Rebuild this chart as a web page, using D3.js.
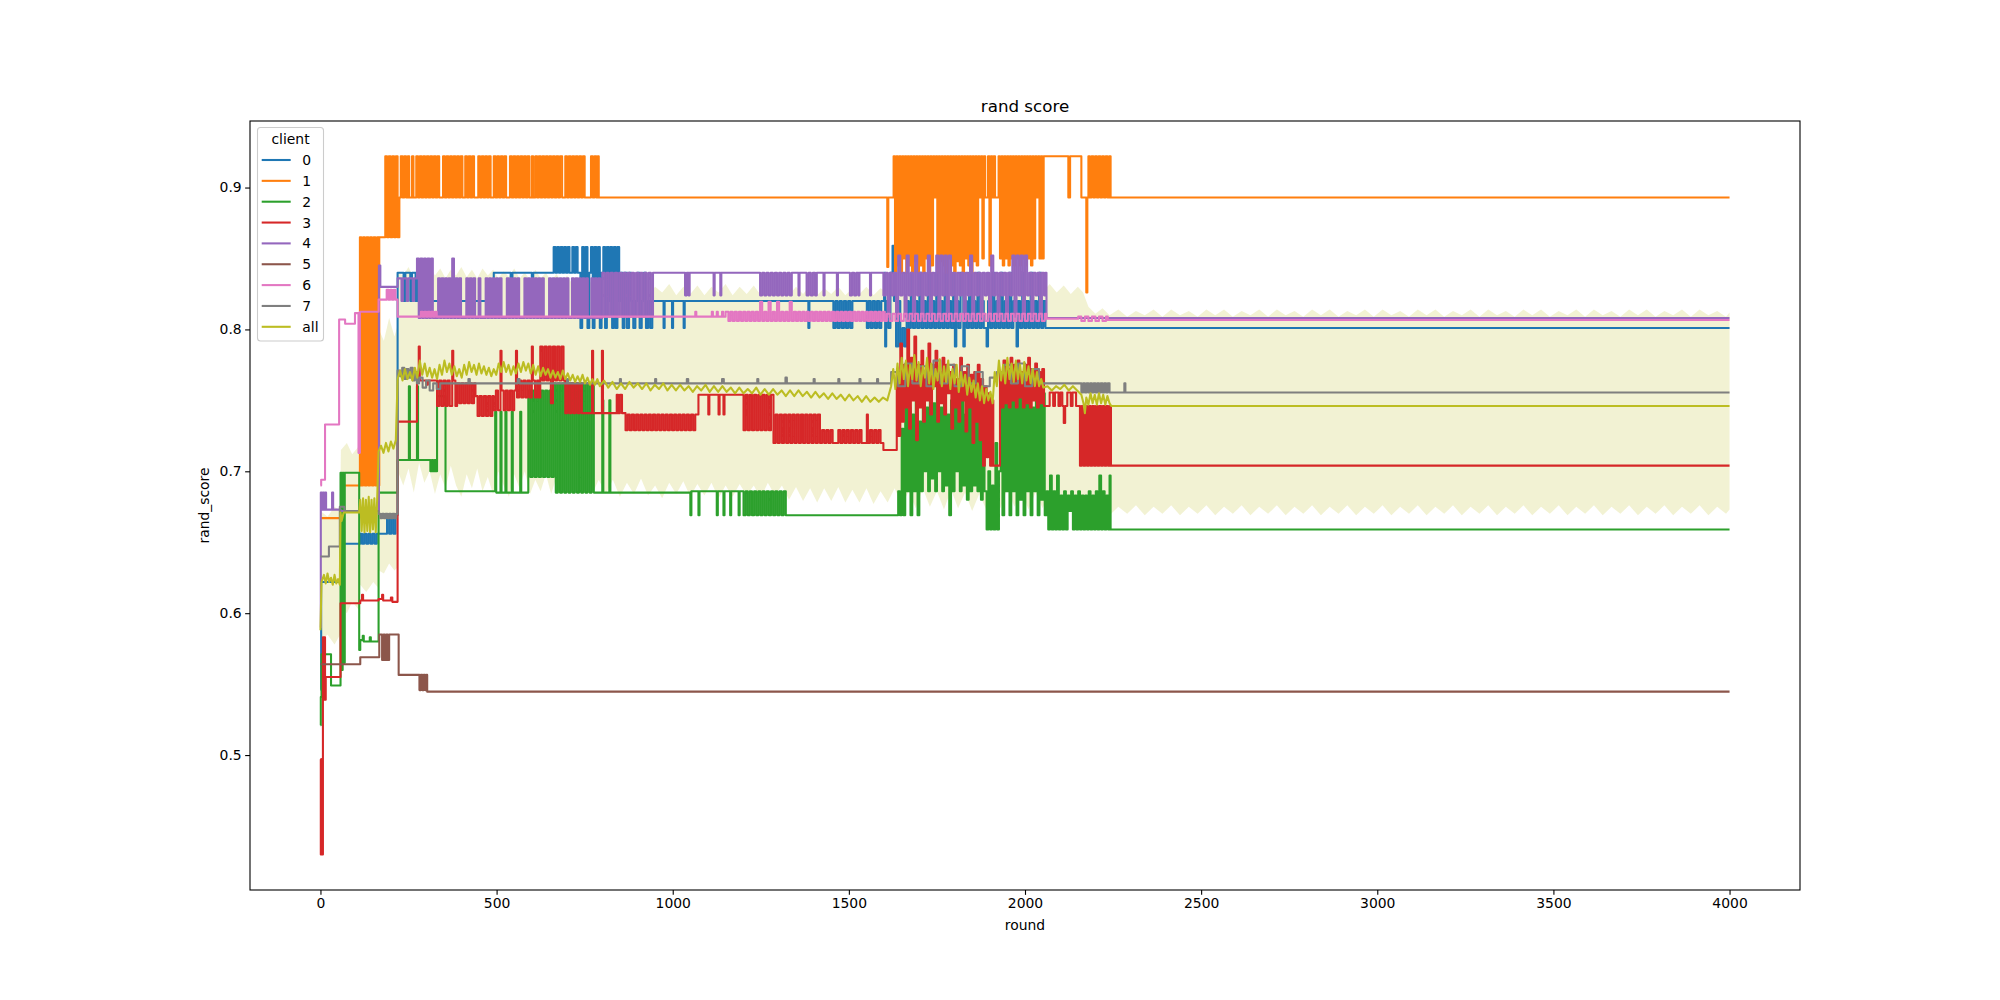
<!DOCTYPE html>
<html><head><meta charset="utf-8">
<script src="https://cdn.jsdelivr.net/npm/d3@7"></script>
<style>body{margin:0;background:#fff}</style>
</head><body>
<svg id="chart" width="2000" height="1000"></svg>
<script>
// ---------------- data ----------------
const clients = ["0","1","2","3","4","5","6","7"];
const legendLabels = ["0","1","2","3","4","5","6","7","all"];
const xTicks = [0,500,1000,1500,2000,2500,3000,3500,4000];
const yTicks = [0.5,0.6,0.7,0.8,0.9];

// each client: flat list of [round, value] pairs (value holds until next round)
const c0 = [0,.546, 2,.622, 57,.649, 113,.656, 118,.649, 124,.656, 130,.649, 136,.656, 142,.649, 148,.656, 154,.649, 160,.656, 189,.669, 195,.656, 201,.669, 207,.656, 213,.669, 219,.840, 236,.820, 241,.840, 255,.820, 260,.840, 270,.820, 276,.840, 280,.820, 492,.840, 540,.820, 545,.840, 600,.820, 604,.840,
662,.858, 667,.840, 672,.858, 677,.840, 682,.858, 687,.840, 692,.858, 697,.840, 702,.858, 707,.840, 715,.858, 720,.840, 725,.858, 730,.840, 738,.801, 743,.858, 748,.820, 753,.858, 758,.801, 763,.840, 768,.858, 773,.801, 778,.858, 783,.820, 788,.858, 793,.801, 798,.840, 803,.858, 808,.801, 813,.858, 818,.820, 823,.858, 828,.801, 833,.858, 838,.801, 843,.858, 848,.820, 853,.840, 858,.801, 863,.840, 870,.801, 876,.840, 882,.820, 888,.801, 894,.820, 900,.840, 906,.801, 912,.820, 918,.840, 924,.801, 930,.820, 936,.801, 942,.820,
974,.801, 977,.820, 998,.801, 1001,.820, 1031,.801, 1034,.820, 1385,.801, 1388,.820, 1456,.801, 1462,.820, 1468,.801, 1474,.820, 1480,.801, 1486,.820, 1492,.801, 1498,.820, 1504,.801, 1510,.820, 1551,.801, 1556,.820, 1562,.801, 1568,.820, 1574,.801, 1580,.820, 1586,.801, 1592,.820,
1600,.840, 1603,.788, 1606,.820, 1612,.801, 1618,.840, 1624,.859, 1628,.820, 1634,.788, 1640,.820, 1646,.788, 1652,.801, 1658,.788, 1664,.820, 1670,.801, 1676,.840, 1682,.801, 1688,.820, 1694,.801, 1700,.840, 1706,.801, 1712,.820, 1718,.801, 1724,.840, 1730,.801, 1736,.820, 1742,.801, 1748,.840, 1754,.801, 1760,.820, 1766,.801, 1772,.840, 1778,.801, 1784,.820, 1790,.801, 1796,.840, 1801,.788, 1805,.820, 1811,.801, 1817,.840, 1825,.788, 1829,.820, 1835,.801, 1841,.840, 1847,.801, 1853,.820, 1859,.801, 1865,.840, 1871,.801, 1877,.820, 1883,.801, 1891,.788, 1895,.820, 1901,.801, 1907,.840, 1913,.801, 1919,.820, 1925,.801, 1931,.840, 1937,.801, 1943,.820, 1949,.801, 1955,.840, 1961,.801, 1967,.820, 1976,.788, 1980,.820, 1986,.801, 1992,.840, 1998,.801, 2004,.820, 2010,.801, 2016,.840, 2022,.801, 2028,.820, 2034,.801, 2040,.840, 2046,.801, 2052,.820, 2058,.801, 4000,.801];

const c1 = [0,.667, 60,.690, 112,.865, 116,.690, 121,.865, 126,.690, 131,.865, 136,.690, 141,.865, 146,.690, 151,.865, 156,.690, 161,.865, 165,.690, 167,.865, 184,.922, 189,.865, 194,.922, 199,.865, 204,.922, 209,.865, 214,.922, 219,.865, 224,.893,
228,.922, 233,.893, 238,.922, 243,.893, 248,.922, 252,.893, 260,.922, 264,.893, 272,.922, 277,.893, 282,.922, 287,.893, 292,.922, 297,.893, 302,.922, 307,.893, 312,.922, 317,.893, 322,.922, 327,.893, 332,.922, 337,.893, 348,.922, 353,.893, 358,.922, 363,.893, 368,.922, 373,.893, 378,.922, 383,.893, 388,.922, 393,.893, 398,.922, 403,.893, 411,.922, 416,.893, 421,.922, 426,.893, 431,.922, 436,.893, 448,.922, 453,.893, 458,.922, 463,.893, 468,.922, 473,.893, 478,.922, 483,.893, 492,.922, 497,.893, 502,.922, 507,.893, 512,.922, 517,.893, 522,.922, 527,.893, 538,.922, 543,.893, 548,.922, 553,.893, 558,.922, 563,.893, 568,.922, 573,.893, 578,.922, 583,.893, 588,.922, 593,.893, 600,.922, 604,.893, 610,.922, 615,.893, 620,.922, 625,.893, 630,.922, 635,.893, 640,.922, 645,.893, 650,.922, 655,.893, 660,.922, 665,.893, 670,.922, 675,.893, 680,.922, 686,.893, 695,.922, 700,.893, 705,.922, 710,.893, 715,.922, 720,.893, 725,.922, 730,.893, 735,.922, 740,.893, 745,.922, 750,.893, 768,.922, 773,.893, 778,.922, 783,.893, 787,.922, 790,.893,
1609,.844, 1612,.893,
1627,.922, 1631,.840, 1635,.922, 1639,.845, 1643,.922, 1647,.840, 1651,.922, 1655,.850, 1659,.922, 1663,.840, 1667,.922, 1671,.845, 1675,.922, 1679,.840, 1683,.922, 1687,.848, 1691,.922, 1695,.840, 1699,.922, 1703,.845, 1707,.922, 1711,.840, 1715,.922, 1719,.850, 1723,.922, 1727,.840, 1731,.922, 1735,.845, 1739,.922, 1743,.893, 1747,.922, 1751,.840, 1755,.922, 1759,.848, 1763,.922, 1767,.845, 1771,.922, 1775,.840, 1779,.922, 1783,.850, 1787,.922, 1791,.845, 1795,.922, 1799,.840, 1803,.922, 1807,.848, 1811,.922, 1815,.845, 1819,.922, 1823,.840, 1827,.922, 1831,.850, 1835,.922, 1839,.845, 1843,.922, 1847,.840, 1851,.922, 1855,.848, 1859,.922, 1863,.845, 1867,.922, 1871,.893, 1875,.922, 1879,.850, 1883,.922, 1887,.893, 1895,.922, 1899,.845, 1903,.922, 1907,.893, 1911,.922, 1915,.893,
1925,.922, 1929,.850, 1933,.922, 1937,.845, 1941,.922, 1945,.850, 1949,.922, 1953,.845, 1957,.922, 1961,.850, 1965,.922, 1969,.845, 1973,.922, 1977,.850, 1981,.922, 1985,.845, 1989,.922, 1993,.850, 1997,.922, 2001,.845, 2005,.922, 2009,.850, 2013,.922, 2017,.845, 2021,.922, 2025,.850, 2029,.922, 2033,.893, 2037,.922, 2041,.850, 2045,.922, 2049,.850, 2053,.922,
2123,.893, 2128,.922, 2160,.893, 2174,.826, 2177,.893, 2180,.922, 2184,.893, 2189,.922, 2194,.893, 2199,.922, 2204,.893, 2209,.922, 2214,.893, 2219,.922, 2224,.893, 2229,.922, 2234,.893, 2239,.922, 2243,.893, 4000,.893];

const c2 = [0,.521, 1,.541, 3,.571, 30,.549, 57,.699, 60,.560, 63,.699, 66,.565, 69,.699, 110,.574, 113,.581, 120,.584, 123,.580, 140,.583, 143,.580, 165,.685, 219,.708, 251,.760, 254,.708, 274,.760, 277,.708,
312,.700, 316,.708, 320,.700, 324,.708, 328,.700, 331,.753, 355,.686,
496,.742, 499,.685, 511,.742, 514,.685, 525,.742, 528,.685, 543,.742, 546,.685, 567,.742, 570,.685,
590,.757, 596,.696, 602,.757, 608,.696, 614,.757, 620,.696, 626,.757, 632,.696, 638,.757, 644,.696, 650,.757, 656,.696,
662,.762, 668,.685, 674,.762, 680,.685, 686,.762, 692,.685, 698,.762, 704,.685, 710,.762, 716,.685, 722,.762, 728,.685, 734,.762, 740,.685, 746,.762, 752,.685, 758,.762, 764,.685, 770,.762, 776,.685,
800,.750, 803,.685, 820,.750, 823,.685,
1050,.669, 1053,.686, 1073,.669, 1076,.686, 1125,.669, 1128,.686, 1144,.669, 1147,.686, 1163,.669, 1166,.686, 1187,.669, 1190,.686,
1201,.669, 1207,.686, 1213,.669, 1219,.686, 1225,.669, 1231,.686, 1237,.669, 1243,.686, 1249,.669, 1255,.686, 1261,.669, 1267,.686, 1273,.669, 1279,.686, 1285,.669, 1291,.686, 1297,.669, 1303,.686, 1309,.669, 1315,.686, 1321,.669,
1640,.686, 1645,.669, 1650,.730, 1655,.669, 1660,.750, 1665,.686, 1670,.745, 1675,.669, 1680,.740, 1685,.686, 1690,.755, 1695,.669, 1700,.735, 1705,.686, 1710,.760, 1715,.700, 1720,.745, 1725,.686, 1730,.755, 1735,.695, 1740,.748, 1745,.686, 1750,.770, 1755,.700, 1760,.745, 1765,.686, 1770,.755, 1775,.690, 1780,.740, 1785,.669, 1790,.750, 1795,.686, 1800,.760, 1805,.700, 1810,.745, 1815,.686, 1820,.755, 1825,.690, 1830,.740, 1835,.680, 1840,.750, 1845,.686, 1850,.745, 1855,.690, 1860,.752, 1865,.686, 1870,.740, 1875,.680, 1880,.750, 1885,.686,
1891,.659, 1896,.700, 1901,.659, 1906,.690, 1911,.659, 1916,.720, 1921,.659, 1926,.700,
1931,.752, 1936,.669, 1941,.755, 1946,.686, 1951,.760, 1956,.669, 1961,.750, 1966,.686, 1971,.765, 1976,.669, 1981,.752, 1986,.680, 1991,.760, 1996,.669, 2001,.755, 2006,.686, 2011,.750, 2016,.669, 2021,.745, 2026,.686, 2031,.752, 2036,.669, 2041,.748, 2046,.680, 2051,.755, 2056,.669,
2061,.686, 2066,.659, 2071,.697, 2076,.659, 2081,.686, 2086,.659, 2091,.697, 2096,.659, 2101,.683, 2106,.659, 2111,.686, 2116,.659, 2121,.683, 2126,.672, 2131,.686, 2136,.659, 2141,.683, 2146,.659, 2151,.686, 2156,.659, 2161,.683, 2166,.659, 2171,.683, 2176,.659, 2181,.686, 2186,.659, 2191,.683, 2196,.659, 2201,.686, 2206,.659, 2211,.697, 2216,.659, 2221,.686, 2226,.659, 2231,.683, 2236,.659, 2240,.697, 2243,.659, 4000,.659];

const c3 = [0,.497, 1,.430, 2,.497, 3,.430, 4,.497, 5,.430, 7,.583, 9,.539, 11,.583, 13,.539, 15,.555, 57,.607, 113,.609, 118,.613, 121,.609, 165,.610, 175,.613, 178,.609, 200,.611, 204,.608, 219,.735, 274,.764, 279,.788, 282,.764, 300,.761, 305,.764,
331,.746, 337,.764, 343,.746, 349,.764, 355,.746, 361,.764, 367,.746, 374,.785, 377,.764, 383,.746,
388,.762, 394,.748, 400,.762, 406,.748, 412,.762, 418,.748, 424,.762, 430,.748, 436,.762,
440,.753, 446,.739, 452,.753, 458,.739, 464,.753, 470,.739, 476,.753, 482,.739, 488,.753,
492,.743, 498,.757, 504,.743, 511,.785, 514,.757, 520,.743, 526,.757, 532,.743, 538,.757, 544,.743, 550,.757, 555,.785, 558,.752,
564,.764, 570,.752, 576,.764, 582,.752, 588,.764, 594,.752, 600,.788, 603,.764, 609,.752, 615,.764, 620,.752,
624,.788, 630,.764, 636,.788, 642,.764, 648,.788, 654,.748, 660,.788, 666,.764, 672,.788, 678,.764, 684,.788, 690,.764,
695,.741, 700,.762, 706,.741, 712,.762, 718,.741, 724,.762, 730,.741, 736,.762, 742,.741, 771,.785, 774,.741, 799,.785, 802,.741,
841,.754, 845,.741, 850,.754, 856,.741,
866,.729, 872,.740, 878,.729, 884,.740, 890,.729, 896,.740, 902,.729, 908,.740, 914,.729, 920,.740, 926,.729, 932,.740, 938,.729, 944,.740, 950,.729, 956,.740, 962,.729, 968,.740, 974,.729, 980,.740, 986,.729, 992,.740, 998,.729, 1004,.740, 1010,.729, 1016,.740, 1022,.729, 1028,.740, 1034,.729, 1040,.740, 1046,.729, 1052,.740, 1058,.729, 1064,.740,
1073,.754, 1101,.740, 1104,.754, 1130,.740, 1133,.754, 1144,.740, 1147,.754,
1201,.729, 1207,.754, 1213,.729, 1219,.754, 1225,.729, 1231,.754, 1237,.729, 1243,.754, 1249,.729, 1255,.754, 1261,.729, 1267,.754, 1273,.729, 1279,.754,
1286,.720, 1292,.740, 1298,.720, 1304,.740, 1310,.720, 1316,.740, 1322,.720, 1328,.740, 1334,.720, 1340,.740, 1346,.720, 1352,.740, 1358,.720, 1364,.740, 1370,.720, 1376,.740, 1382,.720, 1388,.740, 1394,.720, 1400,.740, 1406,.720, 1412,.740,
1418,.720, 1424,.729, 1430,.720, 1436,.729, 1442,.720, 1448,.729, 1454,.720, 1470,.729, 1476,.720, 1482,.729, 1488,.720, 1494,.729, 1500,.720, 1506,.729, 1512,.720, 1518,.729, 1524,.720, 1530,.729, 1536,.720, 1551,.740, 1554,.720, 1560,.729, 1566,.720, 1572,.729, 1578,.720, 1584,.729, 1590,.720, 1598,.715,
1636,.770, 1641,.725, 1646,.790, 1651,.735, 1656,.775, 1661,.745, 1666,.800, 1671,.730, 1676,.780, 1681,.750, 1686,.795, 1691,.722, 1696,.775, 1701,.745, 1706,.785, 1711,.735, 1716,.770, 1721,.750, 1726,.790, 1731,.740, 1736,.775, 1741,.760, 1746,.785, 1751,.735, 1756,.770, 1761,.748, 1766,.780, 1771,.740, 1776,.775, 1781,.755, 1786,.770, 1791,.730, 1796,.775, 1801,.745, 1806,.765, 1811,.735, 1816,.780, 1821,.750, 1826,.770, 1831,.728, 1836,.775, 1841,.745, 1846,.768, 1851,.720, 1856,.770, 1861,.735, 1866,.775, 1871,.722, 1876,.765, 1881,.704, 1886,.760, 1891,.710, 1896,.755, 1901,.704, 1906,.750, 1910,.704,
1929,.770, 1934,.745, 1939,.778, 1944,.748, 1949,.772, 1954,.745, 1959,.780, 1964,.750, 1969,.775, 1974,.745, 1979,.778, 1984,.752, 1989,.770, 1994,.745, 1999,.775, 2004,.748, 2009,.780, 2014,.745, 2019,.772, 2024,.750, 2029,.776, 2034,.745, 2039,.770, 2044,.748, 2049,.772, 2054,.746,
2070,.7555, 2080,.746, 2085,.7555, 2095,.746, 2100,.7555, 2106,.746, 2110,.734, 2114,.746, 2120,.7555, 2130,.746, 2135,.7555, 2145,.746,
2156,.704, 2161,.746, 2166,.704, 2171,.746, 2176,.704, 2181,.746, 2186,.704, 2191,.746, 2196,.704, 2201,.746, 2206,.704, 2211,.746, 2216,.704, 2221,.746, 2226,.704, 2231,.746, 2236,.704, 2241,.746, 2244,.704, 4000,.704];

const c4 = [0,.590, 1,.685, 4,.673, 7,.685, 10,.673, 13,.685, 16,.673, 33,.685, 36,.673, 57,.672, 166,.845, 170,.830, 219,.836, 230,.820, 234,.836, 245,.820, 249,.836, 262,.820, 266,.836,
274,.850, 279,.808, 284,.850, 289,.808, 294,.850, 299,.808, 304,.850, 309,.808, 314,.850, 319,.808, 334,.836, 339,.808, 344,.836, 349,.808, 354,.836, 359,.808, 364,.836, 369,.808, 374,.850, 379,.808, 384,.836, 389,.808, 394,.836, 399,.808, 414,.836, 419,.808, 424,.836, 429,.808, 434,.836, 439,.808, 449,.836, 454,.808, 469,.836, 474,.808, 479,.836, 484,.808, 489,.836, 494,.808, 499,.836, 504,.808, 509,.836, 514,.808, 529,.836, 534,.808, 539,.836, 544,.808, 549,.836, 554,.808, 559,.836, 564,.808, 579,.836, 584,.808, 589,.836, 594,.808, 599,.836, 604,.808, 609,.836, 614,.808, 619,.836, 624,.808, 629,.836, 634,.808, 649,.836, 654,.808, 659,.836, 664,.808, 669,.836, 674,.808, 679,.836, 684,.808, 689,.836, 694,.808, 699,.836, 704,.808, 714,.836, 719,.808, 724,.836, 729,.808, 734,.836, 739,.808, 744,.836, 749,.808, 754,.836, 759,.808, 769,.836, 774,.808, 779,.836, 784,.808, 789,.836, 794,.808,
800,.840, 806,.809, 812,.840, 818,.809, 824,.840, 830,.809, 836,.840, 842,.809, 848,.840, 854,.809, 860,.840, 866,.809, 872,.840, 878,.809, 884,.840, 890,.809, 896,.840, 902,.809, 908,.840, 914,.809, 920,.840, 926,.809, 932,.840, 938,.809, 944,.840,
1035,.824, 1040,.840, 1045,.824, 1048,.840, 1116,.824, 1119,.840, 1135,.824, 1138,.840, 1248,.824, 1254,.840, 1260,.824, 1266,.840, 1272,.824, 1278,.840, 1284,.824, 1290,.840, 1296,.824, 1302,.840, 1308,.824, 1314,.840, 1320,.824, 1326,.840, 1332,.824, 1338,.840, 1357,.824, 1360,.840, 1380,.824, 1386,.840, 1392,.824, 1398,.840, 1404,.824, 1409,.840, 1428,.824, 1431,.840, 1466,.824, 1469,.840, 1503,.824, 1509,.840, 1515,.824, 1521,.840, 1527,.824, 1530,.840, 1560,.824, 1563,.840,
1598,.824, 1604,.840, 1610,.809, 1616,.840, 1622,.824, 1628,.840, 1634,.809, 1640,.852, 1646,.824, 1652,.840, 1658,.809, 1664,.852, 1670,.824, 1676,.840, 1682,.809, 1688,.852, 1694,.824, 1700,.840, 1706,.809, 1712,.840, 1718,.824, 1724,.852, 1730,.809, 1736,.840, 1742,.824, 1748,.852, 1754,.809, 1760,.852, 1766,.824, 1772,.852, 1778,.809, 1784,.852, 1790,.824, 1796,.840, 1802,.809, 1808,.840, 1814,.824, 1820,.840, 1826,.809, 1832,.840, 1838,.824, 1844,.852, 1850,.809, 1856,.840, 1862,.824, 1868,.840, 1874,.809, 1880,.840, 1886,.824, 1892,.840, 1898,.809, 1904,.852, 1910,.824, 1916,.840, 1922,.809, 1928,.840, 1934,.824, 1940,.840, 1946,.809, 1952,.840, 1958,.824, 1964,.852, 1970,.809, 1976,.852, 1982,.824, 1988,.852, 1994,.809, 2000,.852, 2006,.824, 2012,.840, 2018,.809, 2024,.840, 2030,.824, 2036,.840, 2042,.809, 2048,.840, 2054,.824, 2058,.840, 2061,.808, 4000,.808];

const c5 = [0,.564, 113,.569, 167,.585, 175,.567, 179,.585, 183,.567, 187,.585, 191,.567, 195,.585, 222,.5565, 281,.5458, 285,.5565, 289,.5458, 293,.5565, 297,.5458, 301,.5565, 303,.5447, 4000,.5447];

const c6 = [0,.690, 2,.694, 13,.733, 53,.807, 70,.804, 98,.8115, 108,.713, 112,.8125, 165,.821, 188,.828, 193,.821, 198,.828, 203,.821, 208,.828, 213,.821, 219,.809, 285,.8125, 290,.809, 295,.8125, 300,.809, 305,.8125, 310,.809, 315,.8125, 320,.809, 325,.8125, 330,.809,
1064,.8125, 1067,.809, 1111,.8125, 1114,.809, 1125,.8125, 1128,.809, 1140,.8125, 1143,.809, 1150,.8125,
1158,.806, 1164,.8125, 1170,.806, 1176,.8125, 1182,.806, 1188,.8125, 1194,.806, 1200,.8125, 1206,.806, 1212,.8125, 1218,.806, 1224,.8125, 1230,.806, 1236,.8125, 1242,.806, 1248,.8195, 1254,.806, 1260,.8125, 1266,.806, 1272,.8195, 1278,.806, 1284,.8125, 1290,.806, 1296,.8195, 1302,.806, 1308,.8125, 1314,.806, 1320,.8125, 1326,.806, 1332,.8195, 1338,.806, 1344,.8125, 1350,.806, 1356,.8125, 1362,.806, 1368,.8125, 1374,.806, 1380,.8125, 1386,.806, 1392,.8125, 1398,.806, 1404,.8125, 1410,.806, 1416,.8125, 1422,.806, 1428,.8125, 1434,.806, 1440,.8125, 1446,.806, 1452,.8125, 1458,.806, 1464,.8125, 1470,.806, 1476,.8125, 1482,.806, 1488,.8125, 1494,.806, 1500,.8125, 1506,.806, 1512,.8125, 1518,.806, 1524,.8125, 1530,.806, 1536,.8125, 1542,.806, 1548,.8125, 1554,.806, 1560,.8125, 1566,.806, 1572,.8125, 1578,.806, 1584,.8125, 1590,.806, 1596,.8125, 1602,.806,
1608,.811, 1616,.806, 1624,.811, 1632,.806, 1640,.811, 1648,.806, 1656,.811, 1664,.806, 1672,.811, 1680,.806, 1688,.811, 1696,.806, 1704,.811, 1712,.806, 1720,.811, 1728,.806, 1736,.811, 1744,.806, 1752,.811, 1760,.806, 1768,.811, 1776,.806, 1784,.811, 1792,.806, 1800,.811, 1808,.806, 1816,.811, 1824,.806, 1832,.811, 1840,.806, 1848,.811, 1856,.806, 1864,.811, 1872,.806, 1880,.811, 1888,.806, 1896,.811, 1904,.806, 1912,.811, 1920,.806, 1928,.811, 1936,.806, 1944,.811, 1952,.806, 1960,.811, 1968,.806, 1976,.811, 1984,.806, 1992,.811, 2000,.806, 2008,.811, 2016,.806, 2024,.811, 2032,.806, 2040,.811, 2048,.806, 2056,.811, 2061,.8075,
2151,.809, 2160,.806, 2170,.809, 2180,.806, 2190,.809, 2200,.806, 2210,.809, 2220,.806, 2230,.809, 2235,.8066, 4000,.8066];

const c7 = [0,.640, 24,.647, 55,.675, 68,.672, 165,.670, 170,.667, 175,.670, 180,.667, 185,.670, 190,.667, 195,.670, 200,.667, 205,.670, 210,.667, 215,.670, 219,.771, 226,.767, 232,.773, 238,.765, 244,.772, 250,.766, 256,.773, 262,.764, 268,.770, 274,.762, 280,.766, 290,.759, 300,.764, 310,.757, 320,.762, 330,.758, 340,.762,
420,.765, 424,.762, 560,.765, 565,.762, 700,.765, 703,.762, 850,.765, 853,.762, 950,.765, 953,.762, 1040,.765, 1044,.762, 1140,.765, 1145,.762, 1240,.765, 1243,.762, 1320,.766, 1324,.762, 1400,.765, 1403,.762, 1470,.765, 1473,.762, 1530,.765, 1533,.762, 1580,.765, 1583,.762,
1620,.770, 1640,.760, 1660,.776, 1680,.762, 1700,.774, 1720,.760, 1740,.778, 1760,.762, 1780,.775, 1800,.760, 1820,.774, 1840,.762, 1860,.770, 1880,.760, 1900,.766, 1920,.770, 1940,.775, 1960,.762, 1980,.776, 2000,.760, 2020,.772, 2040,.762,
2160,.7555, 2165,.762, 2170,.7555, 2175,.762, 2180,.7555, 2185,.762, 2190,.7555, 2195,.762, 2200,.7555, 2205,.762, 2210,.7555, 2215,.762, 2220,.7555, 2225,.762, 2230,.7555, 2235,.762, 2240,.7555, 2282,.762, 2285,.7555, 4000,.7555];

// mean over clients ("all"), flat [round, value]
const allMean = [0,.588, 3,.622, 10,.627, 15,.621, 20,.628, 25,.622, 30,.625, 35,.620, 40,.627, 45,.621, 50,.624, 55,.620, 57,.671, 60,.665, 66,.671, 110,.671,
113,.680, 117,.658, 121,.681, 125,.657, 129,.680, 133,.658, 137,.682, 141,.657, 145,.680, 149,.659, 153,.681, 157,.657, 161,.680, 165,.714, 172,.718, 179,.713, 186,.720, 193,.714, 200,.721, 207,.716, 214,.722, 219,.765,
226,.771, 233,.764, 240,.772, 247,.765, 254,.770, 261,.764, 268,.773, 275,.766, 282,.778, 289,.768, 296,.776, 303,.767, 310,.773, 317,.766, 324,.772, 331,.765, 338,.775, 345,.768, 352,.778, 359,.770, 366,.776, 373,.768, 380,.774, 387,.767, 394,.772, 401,.766, 408,.775, 415,.768, 422,.777, 429,.770, 436,.775, 443,.768, 450,.776, 457,.769, 464,.774, 471,.768, 478,.773, 485,.767, 492,.772, 499,.768, 506,.776, 513,.770, 520,.777, 527,.770, 534,.775, 541,.768, 548,.774, 555,.769, 562,.776, 569,.770, 576,.777, 583,.771, 590,.776, 597,.769, 604,.775, 611,.768, 618,.774, 625,.767, 632,.773, 639,.768, 646,.772, 653,.766, 660,.771, 667,.766, 674,.770, 681,.765, 688,.771, 695,.765, 702,.769, 709,.764, 716,.768, 723,.763, 730,.767, 737,.763, 744,.768, 751,.762, 758,.766, 765,.761, 772,.765, 779,.761, 786,.765, 793,.760,
805,.764, 817,.759, 829,.763, 841,.758, 853,.762, 865,.758, 877,.763, 889,.759, 901,.762, 913,.758, 925,.762, 937,.757, 949,.761, 961,.758, 973,.762, 985,.757, 997,.761, 1009,.757, 1021,.761, 1033,.757, 1045,.760, 1057,.756, 1069,.760, 1081,.757, 1093,.761, 1105,.756, 1117,.760, 1129,.756, 1141,.760, 1153,.756, 1165,.759, 1177,.755, 1189,.759, 1201,.755, 1213,.758, 1225,.755, 1237,.759, 1249,.754, 1261,.758, 1273,.754, 1285,.758, 1297,.754, 1309,.757, 1321,.753, 1333,.757, 1345,.753, 1357,.757, 1369,.753, 1381,.756, 1393,.752, 1405,.756, 1417,.752, 1429,.755, 1441,.751, 1453,.755, 1465,.751, 1477,.754, 1489,.750, 1501,.754, 1513,.750, 1525,.753, 1537,.749, 1549,.753, 1561,.749, 1573,.752, 1585,.749, 1597,.752, 1609,.750,
1620,.760, 1626,.772, 1632,.758, 1638,.776, 1644,.762, 1650,.780, 1656,.765, 1662,.778, 1668,.760, 1674,.775, 1680,.765, 1686,.782, 1692,.764, 1698,.777, 1704,.760, 1710,.774, 1716,.766, 1722,.780, 1728,.762, 1734,.776, 1740,.758, 1746,.772, 1752,.764, 1758,.779, 1764,.760, 1770,.774, 1776,.763, 1782,.778, 1788,.758, 1794,.772, 1800,.762, 1806,.775, 1812,.756, 1818,.770, 1824,.760, 1830,.768, 1836,.754, 1842,.766, 1848,.756, 1854,.764, 1860,.752, 1866,.762, 1872,.750, 1878,.760, 1884,.748, 1890,.758, 1896,.750, 1902,.756, 1908,.748, 1914,.770, 1920,.760, 1926,.778, 1932,.764, 1938,.775, 1944,.762, 1950,.780, 1956,.765, 1962,.776, 1968,.763, 1974,.778, 1980,.765, 1986,.775, 1992,.762, 1998,.777, 2004,.764, 2010,.774, 2016,.762, 2022,.772, 2028,.760, 2034,.770, 2040,.760, 2046,.765, 2052,.759,
2064,.760, 2076,.757, 2088,.760, 2100,.758, 2112,.761, 2124,.757, 2136,.760, 2148,.757, 2160,.754, 2166,.748, 2170,.741, 2174,.752, 2180,.747, 2186,.755, 2192,.748, 2198,.754, 2204,.747, 2210,.755, 2216,.748, 2222,.754, 2228,.747, 2234,.753, 2240,.748, 2245,.746, 4000,.746];

// confidence band of "all": flat [round, lower, upper]
const allBand = [0,.580,.672, 20,.585,.668, 40,.578,.675, 56,.585,.672, 58,.605,.715, 75,.600,.720, 90,.608,.712, 110,.602,.718, 113,.620,.720, 130,.615,.725, 150,.622,.715, 164,.618,.722, 166,.630,.800, 180,.628,.792, 195,.635,.808, 210,.630,.795, 218,.632,.802, 220,.700,.840,
235,.690,.838, 250,.702,.844, 265,.685,.836, 280,.706,.842, 295,.692,.837, 310,.700,.845, 325,.684,.838, 340,.698,.843, 355,.688,.836, 370,.704,.842, 385,.690,.838, 400,.682,.844, 415,.698,.837, 430,.688,.842, 445,.702,.836, 460,.686,.843, 475,.696,.838, 490,.684,.842, 505,.700,.836, 520,.690,.841, 535,.682,.837, 550,.698,.843, 565,.688,.836, 580,.700,.840, 595,.684,.835, 610,.694,.842, 625,.686,.836, 640,.698,.840, 655,.684,.834, 670,.696,.839, 685,.688,.833, 700,.698,.838, 715,.686,.832, 730,.694,.837, 745,.684,.831, 760,.696,.836, 775,.686,.830, 790,.694,.835,
810,.684,.828, 830,.694,.833, 850,.682,.825, 870,.692,.831, 890,.684,.826, 910,.695,.832, 930,.683,.824, 950,.690,.830, 970,.681,.826, 990,.692,.832, 1010,.684,.824, 1030,.693,.830, 1050,.682,.825, 1070,.691,.831, 1090,.683,.824, 1110,.692,.830, 1130,.681,.826, 1150,.690,.832, 1170,.682,.824, 1190,.691,.830, 1210,.683,.825, 1230,.690,.831, 1250,.681,.824, 1270,.692,.829, 1290,.683,.825, 1310,.690,.831, 1330,.680,.824, 1350,.689,.830, 1370,.679,.825, 1390,.688,.831, 1410,.678,.824, 1430,.688,.829, 1450,.679,.825, 1470,.689,.830, 1490,.678,.824, 1510,.687,.829, 1530,.678,.825, 1550,.688,.830, 1570,.677,.824, 1590,.686,.829, 1610,.678,.826,
1630,.688,.835, 1650,.676,.826, 1670,.686,.838, 1690,.674,.828, 1710,.688,.840, 1730,.675,.826, 1750,.686,.837, 1770,.673,.828, 1790,.687,.839, 1810,.674,.825, 1830,.685,.836, 1850,.672,.827, 1870,.684,.838, 1890,.673,.826, 1910,.686,.835, 1930,.674,.828, 1950,.688,.838, 1970,.675,.826, 1990,.686,.837, 2010,.673,.828, 2030,.685,.836, 2050,.674,.826,
2070,.686,.832, 2090,.672,.826, 2110,.685,.831, 2130,.673,.825, 2150,.684,.830, 2165,.675,.826, 2180,.676,.816, 2200,.669,.811, 2220,.675,.815, 2240,.669,.810,
2265,.675,.814, 2290,.670,.809, 2315,.676,.813, 2340,.669,.810, 2365,.675,.814, 2390,.670,.809, 2415,.676,.814, 2440,.669,.810, 2465,.675,.813, 2490,.670,.809, 2515,.676,.814, 2540,.669,.810, 2565,.675,.814, 2590,.670,.809, 2615,.676,.813, 2640,.669,.810, 2665,.675,.814, 2690,.670,.809, 2715,.676,.814, 2740,.669,.810, 2765,.675,.813, 2790,.670,.809, 2815,.676,.814, 2840,.669,.810, 2865,.675,.814, 2890,.670,.809, 2915,.676,.813, 2940,.669,.810, 2965,.675,.814, 2990,.670,.809, 3015,.676,.814, 3040,.669,.810, 3065,.675,.813, 3090,.670,.809, 3115,.676,.814, 3140,.669,.810, 3165,.675,.814, 3190,.670,.809, 3215,.676,.813, 3240,.669,.810, 3265,.675,.814, 3290,.670,.809, 3315,.676,.814, 3340,.669,.810, 3365,.675,.813, 3390,.670,.809, 3415,.676,.814, 3440,.669,.810, 3465,.675,.814, 3490,.670,.809, 3515,.676,.813, 3540,.669,.810, 3565,.675,.814, 3590,.670,.809, 3615,.676,.814, 3640,.669,.810, 3665,.675,.813, 3690,.670,.809, 3715,.676,.814, 3740,.669,.810, 3765,.675,.814, 3790,.670,.809, 3815,.676,.813, 3840,.669,.810, 3865,.675,.814, 3890,.670,.809, 3915,.676,.814, 3940,.669,.810, 3965,.675,.813, 3990,.670,.809, 4000,.673,.812];

// ---------------- drawing ----------------
const seriesData = [c0,c1,c2,c3,c4,c5,c6,c7];
const colors = ["#1f77b4","#ff7f0e","#2ca02c","#d62728","#9467bd","#8c564b","#e377c2","#7f7f7f","#bcbd22"];
const FONT = "DejaVu Sans, Liberation Sans, sans-serif";
const LW = 2.08;

const svg = d3.select("#chart");
const L = 250, R = 1800, T = 121, B = 890;
const x = d3.scaleLinear().domain([-200, 4200]).range([L, R]);
const y = d3.scaleLinear().domain([0.4049, 0.9469]).range([B, T]);

function pairs(a){ const o=[]; for(let i=0;i<a.length;i+=2) o.push([a[i],a[i+1]]); return o; }
function triples(a){ const o=[]; for(let i=0;i<a.length;i+=3) o.push([a[i],a[i+1],a[i+2]]); return o; }

svg.append("rect").attr("x",0).attr("y",0).attr("width",2000).attr("height",1000).attr("fill","#fff");
svg.append("defs").append("clipPath").attr("id","clip").append("rect")
  .attr("x",L).attr("y",T).attr("width",R-L).attr("height",B-T);
const plot = svg.append("g").attr("clip-path","url(#clip)");

// band
const area = d3.area().x(d=>x(d[0])).y0(d=>y(d[1])).y1(d=>y(d[2]));
plot.append("path").attr("d", area(triples(allBand)))
  .attr("fill", colors[8]).attr("fill-opacity", 0.2).attr("stroke","none");

// client lines
const stepLine = d3.line().x(d=>x(d[0])).y(d=>y(d[1])).curve(d3.curveStepAfter);
seriesData.forEach((s,i)=>{
  plot.append("path").attr("d", stepLine(pairs(s)))
    .attr("fill","none").attr("stroke",colors[i]).attr("stroke-width",LW)
    .attr("stroke-linejoin","round");
});
// mean line
const meanLine = d3.line().x(d=>x(d[0])).y(d=>y(d[1]));
plot.append("path").attr("d", meanLine(pairs(allMean)))
  .attr("fill","none").attr("stroke",colors[8]).attr("stroke-width",LW).attr("stroke-linejoin","round");

// axes
const xAxis = d3.axisBottom(x).tickValues(xTicks).tickFormat(d3.format("d")).tickSize(4.86).tickPadding(3.5).tickSizeOuter(0);
const yAxis = d3.axisLeft(y).tickValues(yTicks).tickFormat(d3.format(".1f")).tickSize(4.86).tickPadding(3.5).tickSizeOuter(0);
const gx = svg.append("g").attr("transform",`translate(0,${B})`).call(xAxis);
const gy = svg.append("g").attr("transform",`translate(${L},0)`).call(yAxis);
[gx,gy].forEach(g=>{
  g.select(".domain").remove();
  g.selectAll("line").attr("stroke","#000").attr("stroke-width",1.1);
  g.selectAll("text").attr("font-family",FONT).attr("font-size",13.9).attr("fill","#000");
});

// spines
svg.append("rect").attr("x",L).attr("y",T).attr("width",R-L).attr("height",B-T)
  .attr("fill","none").attr("stroke","#000").attr("stroke-width",1.1);

// labels
svg.append("text").attr("x",(L+R)/2).attr("y",112).attr("text-anchor","middle")
  .attr("font-family",FONT).attr("font-size",16.7).text("rand score");
svg.append("text").attr("x",(L+R)/2).attr("y",930).attr("text-anchor","middle")
  .attr("font-family",FONT).attr("font-size",13.9).text("round");
svg.append("text").attr("transform",`translate(209,${(T+B)/2}) rotate(-90)`).attr("text-anchor","middle")
  .attr("font-family",FONT).attr("font-size",13.9).text("rand_score");

// legend
const lg = svg.append("g");
lg.append("rect").attr("x",257.5).attr("y",127.5).attr("width",66).attr("height",213.5)
  .attr("rx",3).attr("fill","#fff").attr("fill-opacity",0.8).attr("stroke","#cccccc").attr("stroke-width",1.1);
lg.append("text").attr("x",290.5).attr("y",139).attr("dominant-baseline","central").attr("text-anchor","middle")
  .attr("font-family",FONT).attr("font-size",13.9).text("client");
legendLabels.forEach((lab,i)=>{
  const yy = 160 + i*20.85;
  lg.append("line").attr("x1",261.7).attr("x2",290.7).attr("y1",yy).attr("y2",yy)
    .attr("stroke",colors[i]).attr("stroke-width",LW);
  lg.append("text").attr("x",302.3).attr("y",yy).attr("dominant-baseline","central")
    .attr("font-family",FONT).attr("font-size",13.9).text(lab);
});
</script>
</body></html>
